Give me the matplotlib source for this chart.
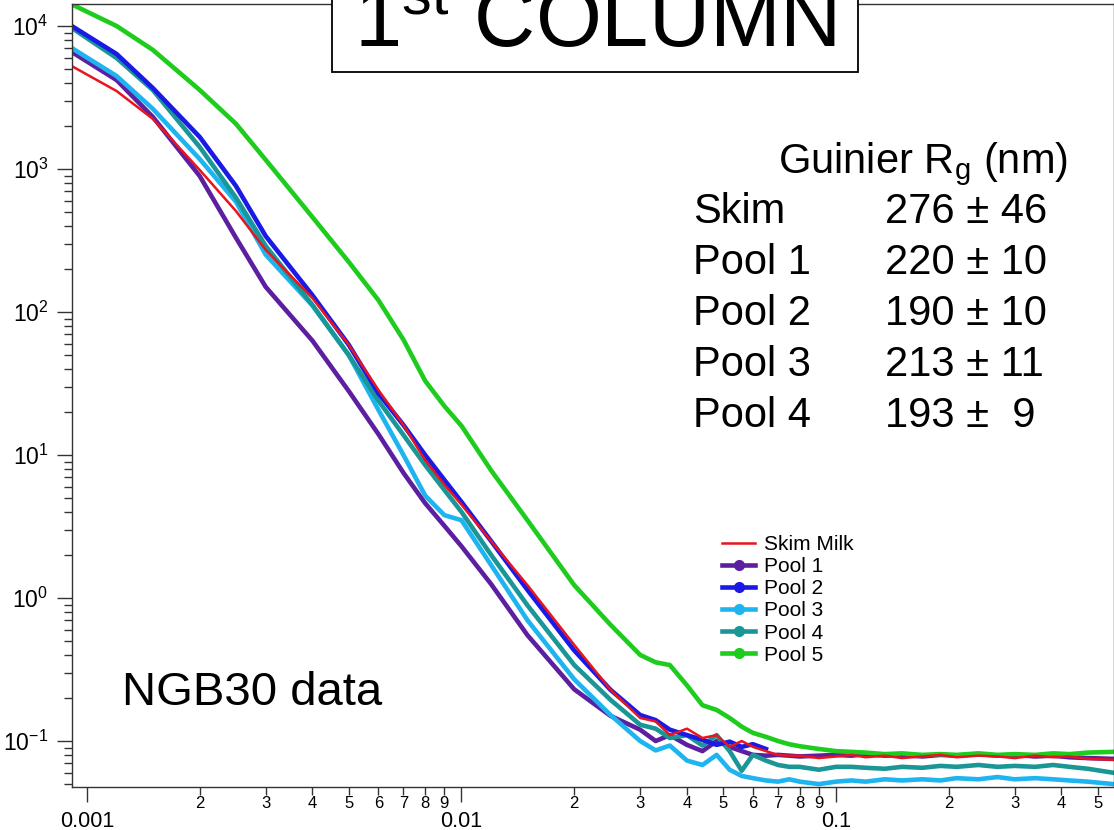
import numpy as np
import matplotlib
matplotlib.use('Agg')
import matplotlib.pyplot as plt
from matplotlib import ticker, patches
from matplotlib.lines import Line2D

plt.rcParams['font.family'] = ['Liberation Sans', 'DejaVu Sans']
plt.rcParams['mathtext.fontset'] = 'custom'
plt.rcParams['mathtext.rm'] = 'Liberation Sans'
plt.rcParams['mathtext.it'] = 'Liberation Sans:italic'

# ---------------- data ----------------
q = [0.00092, 0.0012, 0.0015, 0.002, 0.0025, 0.003, 0.004, 0.005, 0.006, 0.007,
     0.008, 0.009, 0.01, 0.012, 0.015, 0.02, 0.025,
     0.03, 0.033, 0.036, 0.04, 0.044, 0.048, 0.052, 0.056, 0.06, 0.065,
     0.07, 0.075, 0.08, 0.09, 0.1, 0.11, 0.12, 0.135, 0.15, 0.17,
     0.19, 0.21, 0.24, 0.27, 0.3, 0.34, 0.38, 0.42, 0.47, 0.55]

skim = [5170, 3510, 2240, 985, 508, 272, 125, 59, 28.5, 16.2,
        9.2, 6.2, 4.5, 2.5, 1.23, 0.47, 0.228,
        0.145, 0.137, 0.11, 0.122, 0.105, 0.11, 0.091, 0.1, 0.091, 0.085,
        0.08, 0.079, 0.079, 0.076, 0.078, 0.08, 0.077, 0.079, 0.076, 0.078,
        0.08, 0.077, 0.079, 0.078, 0.076, 0.079, 0.077, 0.078, 0.075, 0.074]

pool1 = [6480, 4190, 2310, 893, 330, 150, 63, 28, 14, 7.5,
         4.6, 3.2, 2.3, 1.25, 0.55, 0.23, 0.15,
         0.12, 0.1, 0.11, 0.094, 0.085, 0.1, 0.091, 0.085, 0.08, 0.079,
         0.08, 0.079, 0.078, 0.079, 0.08, 0.079, 0.081, 0.079, 0.08, 0.078,
         0.08, 0.079, 0.081, 0.079, 0.08, 0.078, 0.079, 0.077, 0.076, 0.075]

pool2 = [9840, 6370, 3680, 1675, 760, 340, 131, 59, 27, 16.2,
         10, 6.7, 4.7, 2.5, 1.14, 0.43, 0.228,
         0.152, 0.14, 0.12, 0.11, 0.102, 0.094, 0.099, 0.091, 0.095, 0.088]

pool3 = [6900, 4470, 2630, 1175, 590, 252, 111, 50, 20.7, 10,
         5.2, 3.8, 3.5, 1.7, 0.70, 0.27, 0.152,
         0.1, 0.086, 0.093, 0.073, 0.068, 0.08, 0.063, 0.057, 0.055, 0.053,
         0.052, 0.054, 0.052, 0.05, 0.052, 0.053, 0.052, 0.054, 0.053, 0.054,
         0.053, 0.055, 0.054, 0.056, 0.054, 0.055, 0.054, 0.053, 0.052, 0.05]

pool4 = [9530, 5970, 3560, 1425, 630, 290, 112, 50, 24, 13.8,
         8.5, 5.7, 4.0, 2.0, 0.89, 0.34, 0.194,
         0.13, 0.122, 0.105, 0.11, 0.093, 0.11, 0.085, 0.062, 0.08, 0.073,
         0.068, 0.066, 0.066, 0.063, 0.066, 0.066, 0.065, 0.064, 0.066, 0.065,
         0.067, 0.066, 0.068, 0.066, 0.067, 0.066, 0.068, 0.066, 0.064, 0.06]

pool5 = [14000, 10000, 6800, 3570, 2070, 1160, 461, 224, 121, 64,
         33, 22, 16, 7.8, 3.5, 1.23, 0.65,
         0.40, 0.355, 0.34, 0.245, 0.178, 0.165, 0.145, 0.126, 0.114, 0.107,
         0.1, 0.095, 0.092, 0.088, 0.085, 0.084, 0.083, 0.081, 0.082, 0.08,
         0.081, 0.08, 0.082, 0.08, 0.081, 0.08, 0.082, 0.081, 0.083, 0.084]

labels = ['Skim Milk', 'Pool 1', 'Pool 2', 'Pool 3', 'Pool 4', 'Pool 5']
colors = ['#e8141e', '#5b1fa0', '#1a1ae6', '#1eb4f0', '#1a9696', '#1ecc1e']

rg_names = ['Skim', 'Pool 1', 'Pool 2', 'Pool 3', 'Pool 4']
rg_values = ['276 \u00b1 46', '220 \u00b1 10', '190 \u00b1 10', '213 \u00b1 11', '193 \u00b1  9']

W, H = 1114, 830
fig = plt.figure(figsize=(W / 100, H / 100), dpi=100)
ax = fig.add_axes([72 / W, 43 / H, (1113.5 - 72) / W, (826 - 43) / H])
ax.set_xscale('log')
ax.set_yscale('log')

series = [pool1, pool3, pool4, pool2, pool5, skim]
cols = [colors[1], colors[3], colors[4], colors[2], colors[5], colors[0]]
for s, c in zip(series, cols):
    lw = 1.8 if s is skim else 3.3
    ax.plot(q[:len(s)], s, color=c, lw=lw, solid_joinstyle='round')

ax.set_xlim(0.000912, 0.5508)
ax.set_ylim(0.0477, 14260)

# ticks
ax.xaxis.set_major_locator(ticker.LogLocator(base=10, numticks=20))
ax.xaxis.set_major_formatter(ticker.FuncFormatter(lambda v, p: f'{v:g}'))
ax.xaxis.set_minor_locator(ticker.LogLocator(base=10, subs=np.arange(2, 10), numticks=20))


def minor_fmt(v, pos):
    m = v / 10 ** np.floor(np.log10(v) + 1e-9)
    return f'{int(round(m))}'


ax.xaxis.set_minor_formatter(ticker.FuncFormatter(minor_fmt))
ax.yaxis.set_major_locator(ticker.LogLocator(base=10, numticks=20))
ax.yaxis.set_minor_locator(ticker.LogLocator(base=10, subs=np.arange(2, 10), numticks=20))
ax.yaxis.set_minor_formatter(ticker.NullFormatter())

ax.tick_params(which='major', direction='out', length=11, width=1, color='#333333')
ax.tick_params(which='minor', direction='out', length=6, width=1, color='#333333')
ax.tick_params(axis='x', which='minor', labelsize=12, pad=0.5)
ax.tick_params(axis='x', which='major', labelsize=15.5, pad=6)
ax.tick_params(axis='y', which='major', labelsize=16.5, pad=6)
for sp in ax.spines.values():
    sp.set_linewidth(1.0)
    sp.set_color('#333333')

# legend
handles = []
for i, (lab, c) in enumerate(zip(labels, colors)):
    if i == 0:
        handles.append(Line2D([], [], color=c, lw=1.8))
    else:
        handles.append(Line2D([], [], color=c, lw=3.3, marker='o', ms=7))
ax.legend(handles, labels, loc='upper left', bbox_to_anchor=(722 / W, 1 - 535 / H),
          bbox_transform=fig.transFigure, frameon=False, fontsize=15,
          handlelength=1.6, handletextpad=0.4, labelspacing=0.15,
          borderpad=0, borderaxespad=0)

# text annotations
def ftext(x, y, s, **kw):
    fig.text(x / W, 1 - y / H, s, va='baseline', **kw)


ftext(778, 173, 'Guinier R$_{\\mathrm{g}}$ (nm)', fontsize=30)
for i, (n, v) in enumerate(zip(rg_names, rg_values)):
    ftext(693, 223 + 51 * i, n, fontsize=30)
    ftext(885, 223 + 51 * i, v, fontsize=30)

ftext(122, 705, 'NGB30 data', fontsize=34)

rect = patches.Rectangle((332 / W, 1 - 72 / H), (858 - 332) / W, 0.2,
                         transform=fig.transFigure, facecolor='white',
                         edgecolor='black', lw=1.3, zorder=4)
fig.add_artist(rect)
ftext(595, 46, '1$^{\\mathrm{st}}$ COLUMN', fontsize=61, ha='center', zorder=5)

fig.savefig('out.png', dpi=100)
